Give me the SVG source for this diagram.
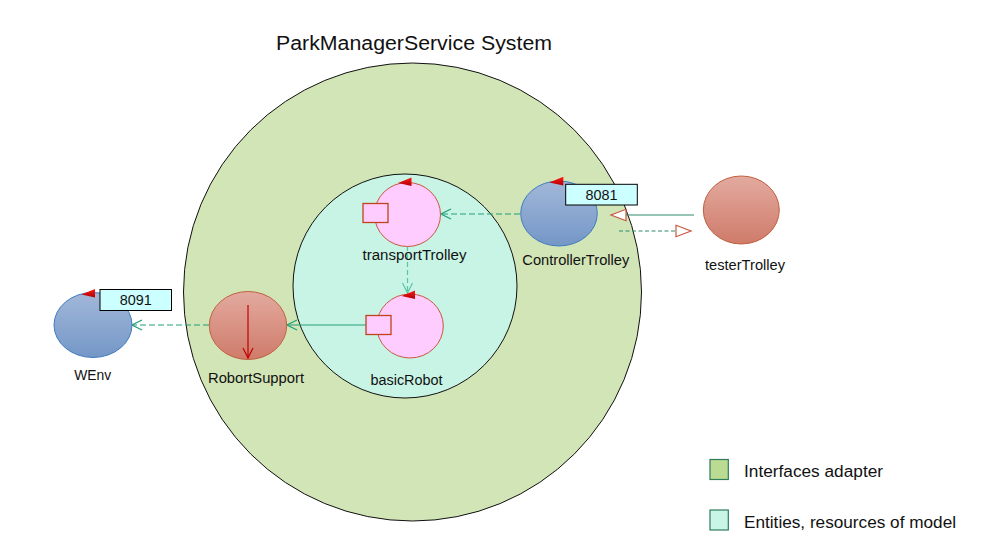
<svg xmlns="http://www.w3.org/2000/svg" width="998" height="547" viewBox="0 0 998 547">
<style>
text{font-family:"Liberation Sans",Arial,sans-serif;fill:#111;}
.lbl{font-size:14px;text-anchor:middle;}
.port{font-size:14px;text-anchor:middle;}
.leg{font-size:16px;}
.blue{fill:url(#gBlue);stroke:#3F7CBE;stroke-width:1;}
.red{fill:url(#gRed);stroke:#C0603E;stroke-width:1;}
.pink{fill:#FFCCFF;stroke:#C8583E;stroke-width:1;}
.sq{fill:#FFCCFF;stroke:#C0441A;stroke-width:1.3;}
.tri{fill:url(#gTri);}
.box{fill:#CCFFFF;stroke:#000;stroke-width:1;}
.dash{fill:none;stroke:#22A07A;stroke-width:1.2;stroke-dasharray:6,3;}
.solid{fill:none;stroke:#22A07A;stroke-width:1.2;}
</style>
<defs>
<linearGradient id="gBlue" x1="0" y1="0" x2="0" y2="1"><stop offset="0" stop-color="#A2B7D9"/><stop offset="1" stop-color="#7497C7"/></linearGradient>
<linearGradient id="gRed" x1="0" y1="0" x2="0" y2="1"><stop offset="0" stop-color="#E3AA9F"/><stop offset="1" stop-color="#CF7B6A"/></linearGradient>
<linearGradient id="gTri" x1="0" y1="0" x2="0" y2="1"><stop offset="0" stop-color="#FF1A1A"/><stop offset="1" stop-color="#B00000"/></linearGradient>
<marker id="chev" markerUnits="userSpaceOnUse" markerWidth="12" markerHeight="12" viewBox="0 0 12 12" refX="11" refY="6" orient="auto">
<path d="M1,1 L11,6 L1,11" fill="none" stroke="#22A07A" stroke-width="1.2"/>
</marker>
<marker id="chevL" markerUnits="userSpaceOnUse" markerWidth="12" markerHeight="12" viewBox="0 0 12 12" refX="11" refY="6" orient="auto">
<path d="M1,1 L11,6 L1,11" fill="none" stroke="#5CC4A6" stroke-width="1.2"/>
</marker>
<marker id="chevR" markerUnits="userSpaceOnUse" markerWidth="12" markerHeight="12" viewBox="0 0 12 12" refX="11" refY="6" orient="auto">
<path d="M1,1 L11,6 L1,11" fill="none" stroke="#C00000" stroke-width="1.2"/>
</marker>
<marker id="hollow" markerUnits="userSpaceOnUse" markerWidth="18" markerHeight="14" viewBox="0 0 18 14" refX="16" refY="7" orient="auto">
<path d="M1,1.3 L16,7 L1,12.7 Z" fill="#fff" stroke="#C8583E" stroke-width="1.2"/>
</marker>
</defs>

<rect x="0" y="0" width="998" height="547" fill="#fff"/>

<text x="414" y="50" style="font-size:20px;text-anchor:middle" textLength="276" lengthAdjust="spacingAndGlyphs">ParkManagerService System</text>

<g id="system">
<circle cx="412.5" cy="292" r="229" fill="#D1E5B6" stroke="#111" stroke-width="1"/>
</g>
<g id="domain">
<circle cx="405" cy="286" r="112" fill="#C8F4E5" stroke="#111" stroke-width="1"/>
</g>

<g id="connectors">
<line class="dash" x1="520" y1="214" x2="441" y2="214" marker-end="url(#chev)"/>
<line x1="407.5" y1="246" x2="407.5" y2="293" fill="none" stroke="#5CC4A6" stroke-width="1.2" stroke-dasharray="5,3" marker-end="url(#chevL)"/>
<line class="solid" x1="366" y1="325" x2="287" y2="325" marker-end="url(#chev)"/>
<line class="dash" x1="209" y1="325" x2="132" y2="325" marker-end="url(#chev)"/>
<line x1="694" y1="215" x2="611" y2="215" stroke="#2E8B6A" stroke-width="1" marker-end="url(#hollow)"/>
<line x1="619" y1="231" x2="691" y2="231" stroke="#2E8B6A" stroke-width="1" stroke-dasharray="4,2.5" marker-end="url(#hollow)"/>
</g>

<g id="transportTrolley">
<ellipse class="pink" cx="407.5" cy="214.5" rx="33" ry="32"/>
<rect class="sq" x="363" y="203.5" width="25" height="19"/>
<polygon class="tri" points="398,183 411.5,177.5 411.5,186"/>
<text class="lbl" x="414.5" y="260" textLength="104" lengthAdjust="spacingAndGlyphs">transportTrolley</text>
</g>

<g id="basicRobot">
<ellipse class="pink" cx="410" cy="326" rx="33.3" ry="32"/>
<rect class="sq" x="366" y="315.5" width="25" height="19"/>
<polygon class="tri" points="401.5,296 415,290.5 415,299"/>
<text class="lbl" x="406.5" y="385" textLength="72" lengthAdjust="spacingAndGlyphs">basicRobot</text>
</g>

<g id="RobortSupport">
<ellipse class="red" cx="248" cy="325.5" rx="38.7" ry="34"/>
<line x1="248" y1="305" x2="248" y2="358" stroke="#C00000" stroke-width="1.2" marker-end="url(#chevR)"/>
<text class="lbl" x="256" y="383" textLength="96" lengthAdjust="spacingAndGlyphs">RobortSupport</text>
</g>

<g id="WEnv">
<ellipse class="blue" cx="93" cy="325" rx="39" ry="32.5"/>
<polygon class="tri" points="81.5,294.5 95,289 95,297.5"/>
<rect class="box" x="100" y="289.5" width="71.5" height="21"/>
<text class="port" x="135.8" y="305" textLength="32" lengthAdjust="spacingAndGlyphs">8091</text>
<text class="lbl" x="92.7" y="380" textLength="37" lengthAdjust="spacingAndGlyphs">WEnv</text>
</g>

<g id="ControllerTrolley">
<ellipse class="blue" cx="559" cy="213.5" rx="38.3" ry="32.5"/>
<polygon class="tri" points="549.3,182.5 563.3,176.7 563.3,185.5"/>
<rect class="box" x="565.7" y="184.3" width="71.6" height="20.7"/>
<text class="port" x="601.5" y="199.5" textLength="32" lengthAdjust="spacingAndGlyphs">8081</text>
<text class="lbl" x="575.8" y="265" textLength="107" lengthAdjust="spacingAndGlyphs">ControllerTrolley</text>
</g>

<g id="testerTrolley">
<ellipse class="red" cx="741.3" cy="210" rx="38" ry="34"/>
<text class="lbl" x="745" y="269.5" textLength="80" lengthAdjust="spacingAndGlyphs">testerTrolley</text>
</g>

<g id="legend">
<rect x="710" y="459.5" width="18.3" height="20" fill="#BCDB92" stroke="#2E7D5A" stroke-width="1.2"/>
<text class="leg" x="744" y="477" textLength="139" lengthAdjust="spacingAndGlyphs">Interfaces adapter</text>
<rect x="710" y="510" width="18.3" height="20" fill="#C8F5E6" stroke="#2E7D5A" stroke-width="1.2"/>
<text class="leg" x="744" y="527.5" textLength="212" lengthAdjust="spacingAndGlyphs">Entities, resources of model</text>
</g>
</svg>
